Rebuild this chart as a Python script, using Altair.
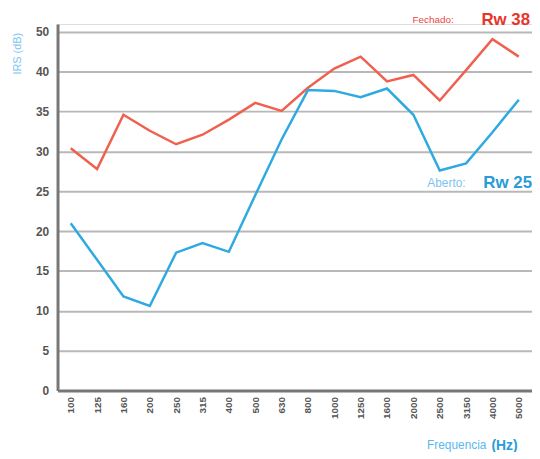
import altair as alt
import pandas as pd

freqs = ["100", "125", "160", "200", "250", "315", "400", "500", "630",
         "800", "1000", "1250", "1600", "2000", "2500", "3150", "4000", "5000"]
fechado = [30.4, 27.8, 34.6, 32.6, 30.9, 32.1, 34.0, 36.1, 35.1,
           38.0, 40.4, 41.9, 38.8, 39.6, 36.4, 40.2, 44.1, 41.9]
aberto = [21.0, 16.4, 11.8, 10.6, 17.3, 18.5, 17.4, 24.5, 31.5,
          37.7, 37.6, 36.8, 37.9, 34.6, 27.6, 28.5, 32.4, 36.5]
y_ticks = [0, 5, 10, 15, 20, 25, 30, 35, 40, 45]

rows = []
for f, a, b in zip(freqs, fechado, aberto):
    rows.append({"freq": f, "serie": "Fechado", "irs": a})
    rows.append({"freq": f, "serie": "Aberto", "irs": b})
df = pd.DataFrame(rows)

RED = "#f0604e"
BLUE = "#2eaae1"
FONT = "Liberation Sans"

lines = alt.Chart(df).mark_line(strokeWidth=2.5).encode(
    x=alt.X("freq:N", sort=freqs,
            scale=alt.Scale(type="point", padding=0.5),
            axis=alt.Axis(title=None, labelAngle=270, labelFont=FONT,
                          labelFontSize=10, labelFontWeight="bold",
                          labelColor="#555555", ticks=False, labelPadding=6,
                          domainColor="#777777", domainWidth=3, grid=False)),
    y=alt.Y("irs:Q", scale=alt.Scale(domain=[0, 46], nice=False),
            axis=alt.Axis(title=None, values=y_ticks, labelFont=FONT,
                          labelFontSize=12, labelFontWeight="bold",
                          labelColor="#555555", ticks=False, labelPadding=9,
                          domainColor="#777777", domainWidth=3,
                          gridColor="#b8b8b8", gridWidth=2, gridOpacity=1,
                          labelExpr="datum.value == 45 ? '50' : datum.label")),
    color=alt.Color("serie:N", scale=alt.Scale(domain=["Fechado", "Aberto"],
                                                range=[RED, BLUE]),
                    legend=None),
    detail="serie:N",
)

def txt(s, x, y, color, size, weight="normal", align="left", angle=0):
    return alt.Chart(pd.DataFrame({"t": [s]})).mark_text(
        font=FONT, fontSize=size, fontWeight=weight, color=color,
        align=align, baseline="middle", angle=angle
    ).encode(text="t:N", x=alt.value(x), y=alt.value(y))

annotations = [
    txt("Fechado:", 400, -4, "#ee4444", 10, align="right"),
    txt("Rw 38", 477, -4, "#e8352b", 17, weight="bold", align="right"),
    txt("Aberto:", 412, 161, "#7cc4f2", 12, align="right"),
    txt("Rw 25", 479, 161, "#2a9bd6", 17, weight="bold", align="right"),
    txt("Frequencia", 433, 425, "#5ab8f0", 12, align="right"),
    txt("(Hz)", 438, 426, "#2a9bd6", 14, weight="bold", align="left"),
    txt("IRS (dB)", -40, 30, "#7cc4f2", 11, align="center", angle=270),
]

chart = alt.layer(lines, *annotations).properties(
    width=479, height=370,
    autosize=alt.AutoSizeParams(type="none"),
    padding={"left": 50, "top": 14, "right": 0, "bottom": 60},
).configure_view(strokeWidth=0).configure(background="white")

chart.save("out.html", embed_options={"renderer": "svg", "actions": False})
